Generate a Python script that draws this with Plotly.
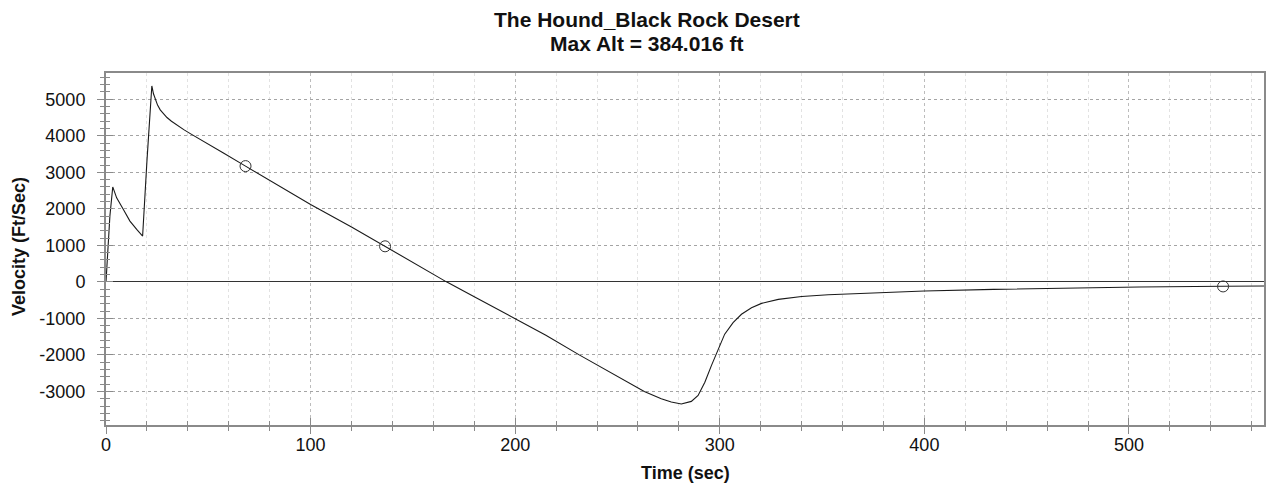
import plotly.graph_objects as go

# ---- data ----
time_s = [0, 1.1, 1.9, 3.3, 4.0, 5.2, 8.5, 11.7, 15.0, 17.9, 20, 22.4, 23.2, 24.1,
          25.2, 26.5, 28.0, 29.8, 32.0, 34.7, 38.0, 41.2, 45.0, 49.4, 57.6, 68.2,
          82.0, 100, 120, 136.4, 150, 166.4, 180, 200, 215, 231.3, 247, 263.1, 271.4,
          276.3, 281.2, 286.1, 289.4, 292.7, 295.9, 299.2, 302.4, 306.5, 310.6,
          315.5, 320.4, 328.6, 340, 353, 369.4, 385, 400, 433.8, 469.5, 505, 546, 566]
velocity = [0, 982, 1800, 2600, 2480, 2300, 1982, 1664, 1436, 1255, 3300, 5366, 5150,
            4990, 4840, 4710, 4600, 4500, 4400, 4290, 4170, 4060, 3930, 3790, 3520,
            3170, 2713, 2118, 1505, 974, 530, 0, -405, -1000, -1460, -2000, -2500,
            -3000, -3200, -3291, -3345, -3273, -3110, -2747, -2294, -1840, -1432,
            -1115, -888, -707, -589, -480, -399, -354, -317, -280, -250, -205, -168,
            -140, -122, -112]

marker_t = [68.2, 136.4, 546]
marker_v = [3170, 974, -125]

title_lines = ["The Hound_Black Rock Desert", "Max Alt = 384.016 ft"]
x_title = "Time (sec)"
y_title = "Velocity (Ft/Sec)"

x_tick_vals = [0, 100, 200, 300, 400, 500]
x_tick_text = ["0", "100", "200", "300", "400", "500"]
y_tick_vals = [-3000, -2000, -1000, 0, 1000, 2000, 3000, 4000, 5000]
y_tick_text = ["-3000", "-2000", "-1000", "0", "1000", "2000", "3000", "4000", "5000"]

x_range = [0, 566]
y_range = [-3920, 5720]

FONT = "Liberation Sans, Arial, sans-serif"
AXIS_GRAY = "#8a8a8a"
TXT = "#111111"

fig = go.Figure()
fig.add_trace(go.Scatter(x=time_s, y=velocity, mode="lines",
                         line=dict(color="#1a1a1a", width=1.1),
                         showlegend=False, hoverinfo="x+y"))
fig.add_trace(go.Scatter(x=marker_t, y=marker_v, mode="markers",
                         marker=dict(symbol="circle-open", size=11,
                                     color="#333333", line=dict(width=1, color="#333333")),
                         showlegend=False))
# invisible trace for the inside-tick overlay axes
fig.add_trace(go.Scatter(x=x_range, y=y_range, xaxis="x2", yaxis="y2", mode="markers",
                         marker=dict(opacity=0), showlegend=False, hoverinfo="skip"))

# page is offset by the 8px body margin -> size/margins compensate
W, H = 1272, 482
L, R, T, B = 98, 16, 65, 65
PW, PH = W - L - R, H - T - B


def px_to_paper(px, py):
    fx, fy = px - 8, py - 8
    return (fx - L) / PW, (T + PH - fy) / PH


annotations = []
tx, ty1 = px_to_paper(647, 20)
_, ty2 = px_to_paper(647, 43)
for txt, yy in zip(title_lines, [ty1, ty2]):
    annotations.append(dict(text="<b>" + txt + "</b>", x=tx, y=yy, xref="paper", yref="paper",
                            xanchor="center", yanchor="middle", showarrow=False,
                            font=dict(size=21, family=FONT, color=TXT)))
ax_x, ax_y = px_to_paper(685, 473)
annotations.append(dict(text="<b>" + x_title + "</b>", x=ax_x, y=ax_y, xref="paper", yref="paper",
                        xanchor="center", yanchor="middle", showarrow=False,
                        font=dict(size=18, family=FONT, color=TXT)))
ay_x, ay_y = px_to_paper(19, 247)
annotations.append(dict(text="<b>" + y_title + "</b>", x=ay_x, y=ay_y, xref="paper", yref="paper",
                        xanchor="center", yanchor="middle", showarrow=False, textangle=-90,
                        font=dict(size=18, family=FONT, color=TXT)))

fig.update_layout(
    width=W, height=H,
    paper_bgcolor="white", plot_bgcolor="white",
    margin=dict(l=L, r=R, t=T, b=B, autoexpand=False),
    font=dict(family=FONT, color=TXT),
    annotations=annotations,
    xaxis=dict(range=x_range, tickmode="array", tickvals=x_tick_vals, ticktext=x_tick_text,
               showline=True, linecolor=AXIS_GRAY, linewidth=2, mirror=True,
               ticks="outside", ticklen=7, tickcolor=AXIS_GRAY, tickwidth=1,
               showgrid=True, gridcolor="#bcbcbc", griddash="dot", gridwidth=1,
               zeroline=False, automargin=False, ticklabelstandoff=-5,
               minor=dict(tickmode="linear", tick0=0, dtick=20, ticks="outside", ticklen=4,
                          tickcolor=AXIS_GRAY, showgrid=True, gridcolor="#e2e2e2",
                          griddash="dot"),
               tickfont=dict(size=18, family=FONT, color=TXT)),
    yaxis=dict(range=y_range, tickmode="array", tickvals=y_tick_vals, ticktext=y_tick_text,
               showline=True, linecolor=AXIS_GRAY, linewidth=2, mirror=True,
               ticks="outside", ticklen=7, tickcolor=AXIS_GRAY, tickwidth=1,
               showgrid=True, gridcolor="#a4a4a4", griddash="dot", gridwidth=1,
               zeroline=True, zerolinecolor="#333333", zerolinewidth=1,
               automargin=False, ticklabelstandoff=8,
               minor=dict(tickmode="linear", tick0=0, dtick=200, ticks="outside", ticklen=4,
                          tickcolor=AXIS_GRAY, showgrid=False),
               tickfont=dict(size=18, family=FONT, color=TXT)),
    xaxis2=dict(range=x_range, overlaying="x", matches="x", tickmode="array",
                tickvals=x_tick_vals, showline=False, showgrid=False, zeroline=False,
                showticklabels=False, ticks="inside", ticklen=7, tickcolor=AXIS_GRAY,
                minor=dict(tickmode="linear", tick0=0, dtick=20, ticks="inside", ticklen=4,
                           tickcolor=AXIS_GRAY, showgrid=False)),
    yaxis2=dict(range=y_range, overlaying="y", matches="y", tickmode="array",
                tickvals=y_tick_vals, showline=False, showgrid=False, zeroline=False,
                showticklabels=False, ticks="inside", ticklen=7, tickcolor=AXIS_GRAY,
                side="left",
                minor=dict(tickmode="linear", tick0=0, dtick=200, ticks="inside", ticklen=4,
                           tickcolor=AXIS_GRAY, showgrid=False)),
)

fig.write_html("out.html")
